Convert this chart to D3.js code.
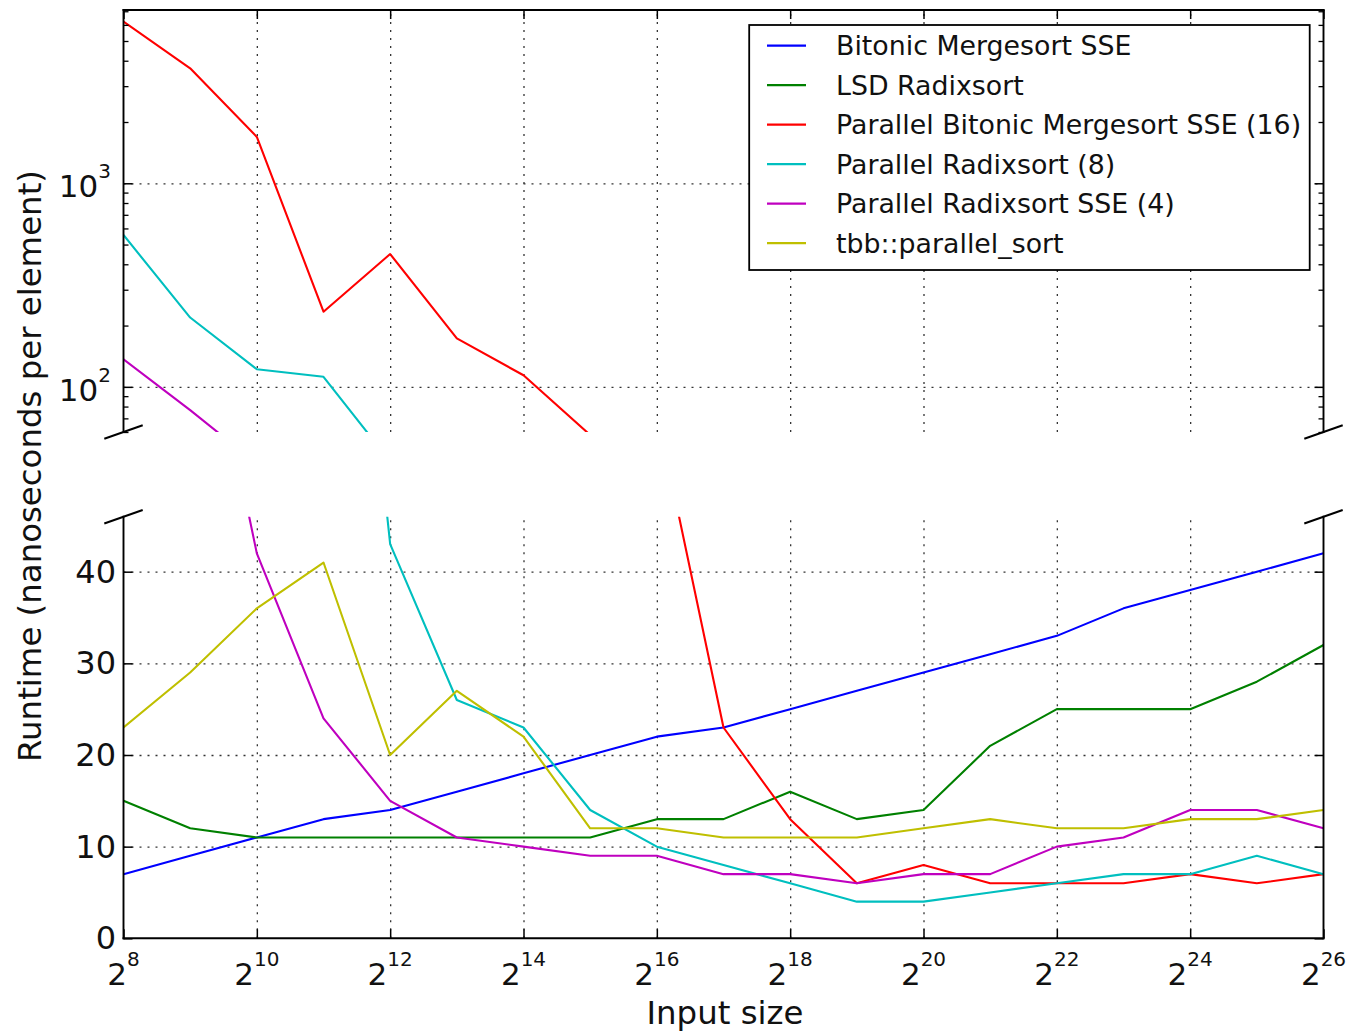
<!DOCTYPE html>
<html><head><meta charset="utf-8">
<script src="https://cdn.jsdelivr.net/npm/d3@7"></script>
<style>
body{margin:0;background:#fff}
svg{display:block}
text{font-family:"DejaVu Sans",sans-serif;fill:#111}
</style>
</head><body>
<svg id="chart" width="1349" height="1033"></svg>
<script>
// ---------------- data ----------------
const exponents = [8,9,10,11,12,13,14,15,16,17,18,19,20,21,22,23,24,25,26];
const seriesNames = ["Bitonic Mergesort SSE","LSD Radixsort","Parallel Bitonic Mergesort SSE (16)","Parallel Radixsort (8)","Parallel Radixsort SSE (4)","tbb::parallel_sort"];
const seriesColors = ["#0000ff","#008000","#ff0000","#00bfbf","#bf00bf","#bfbf00"];
const bitonicSSE   = [7,9,11,13,14,16,18,20,22,23,25,27,29,31,33,36,38,40,42];
const lsdRadix     = [15,12,11,11,11,11,11,11,13,13,16,13,14,21,25,25,25,28,32];
const parBitonic16 = [6230,3670,1690,234,449,173,114,58,57.5,23,13,6,8,6,6,6,7,6,7];
const parRadix8    = [557,219,122,112,43,26,23,14,10,8,6,4,4,5,6,7,7,9,7];
const parRadixSSE4 = [136.5,76.8,42,24,15,11,10,9,9,7,7,6,7,7,10,11,14,14,12];
const tbbSort      = [23,29,36,41,20,27,22,12,12,11,11,11,12,13,12,12,13,13,14];
const allSeries = [bitonicSSE, lsdRadix, parBitonic16, parRadix8, parRadixSSE4, tbbSort];

const xTickExps = [8,10,12,14,16,18,20,22,24,26];
const logMajorTicks = [100,1000];
const logMinorTicks = [60,70,80,90,200,300,400,500,600,700,800,900,2000,3000,4000,5000,6000,7000];
const logTickLabels = ["2","3"];
const linTicks = [0,10,20,30,40];

// ---------------- layout ----------------
const L = 123.5, R = 1323.5;
const T1 = 10, B1 = 432;       // top (log) panel
const T2 = 516.7, B2 = 938.3;  // bottom (linear) panel

const svg = d3.select("#chart");
const x = d3.scaleLog().base(2).domain([Math.pow(2,8), Math.pow(2,26)]).range([L, R]);
const yTop = d3.scaleLog().domain([60, 7100]).range([B1, T1]);
const yBot = d3.scaleLinear().domain([0, 46]).range([B2, T2]);

const defs = svg.append("defs");
defs.append("clipPath").attr("id","clipTop").append("rect").attr("x",L).attr("y",T1).attr("width",R-L).attr("height",B1-T1);
defs.append("clipPath").attr("id","clipBot").append("rect").attr("x",L).attr("y",T2).attr("width",R-L).attr("height",B2-T2);

const xVals = exponents.map(e => Math.pow(2,e));
const xTickVals = xTickExps.map(e => Math.pow(2,e));

function styleGrid(g){
  g.select(".domain").remove();
  g.selectAll("line").attr("stroke","#333").attr("stroke-width",1.3).attr("stroke-dasharray","2,6");
}
function styleTicks(g, w){
  g.select(".domain").remove();
  g.selectAll("line").attr("stroke","#000").attr("stroke-width",w||1.5);
}

function panel(yScale, top, bottom, clipId, yMajor, yMinor, isTop){
  const h = bottom - top;
  // grid
  svg.append("g").attr("transform",`translate(0,${bottom})`)
    .call(d3.axisBottom(x).tickValues(xTickVals.slice(1,-1)).tickSize(-h).tickSizeOuter(0).tickFormat(""))
    .call(styleGrid);
  svg.append("g").attr("transform",`translate(${L},0)`)
    .call(d3.axisLeft(yScale).tickValues(yMajor.filter(v=>v>yScale.domain()[0])).tickSize(-(R-L)).tickSizeOuter(0).tickFormat(""))
    .call(styleGrid);
  // lines
  const gl = svg.append("g").attr("clip-path",`url(#${clipId})`);
  allSeries.forEach((s,i)=>{
    const line = d3.line().x((d,j)=>x(xVals[j])).y(d=>yScale(d));
    gl.append("path").datum(s).attr("d",line).attr("fill","none")
      .attr("stroke",seriesColors[i]).attr("stroke-width",2.1).attr("stroke-linejoin","round");
  });
  // ticks on spines
  const tickLen = 9, minorLen = 5;
  if(isTop){
    svg.append("g").attr("transform",`translate(0,${top})`)
      .call(d3.axisTop(x).tickValues(xTickVals).tickSize(-tickLen).tickSizeOuter(0).tickFormat("")).call(styleTicks);
  } else {
    svg.append("g").attr("transform",`translate(0,${bottom})`)
      .call(d3.axisBottom(x).tickValues(xTickVals).tickSize(-tickLen).tickSizeOuter(0).tickFormat("")).call(styleTicks);
  }
  svg.append("g").attr("transform",`translate(${L},0)`)
    .call(d3.axisLeft(yScale).tickValues(yMajor).tickSize(-tickLen).tickSizeOuter(0).tickFormat("")).call(styleTicks);
  svg.append("g").attr("transform",`translate(${R},0)`)
    .call(d3.axisRight(yScale).tickValues(yMajor).tickSize(-tickLen).tickSizeOuter(0).tickFormat("")).call(styleTicks);
  if(yMinor){
    svg.append("g").attr("transform",`translate(${L},0)`)
      .call(d3.axisLeft(yScale).tickValues(yMinor).tickSize(-minorLen).tickSizeOuter(0).tickFormat("")).call(g=>styleTicks(g,1.3));
    svg.append("g").attr("transform",`translate(${R},0)`)
      .call(d3.axisRight(yScale).tickValues(yMinor).tickSize(-minorLen).tickSizeOuter(0).tickFormat("")).call(g=>styleTicks(g,1.3));
  }
  // spines
  const sp = svg.append("g").attr("stroke","#000").attr("stroke-width",1.9).attr("fill","none").attr("stroke-linecap","square");
  sp.append("line").attr("x1",L).attr("x2",L).attr("y1",top).attr("y2",bottom);
  sp.append("line").attr("x1",R).attr("x2",R).attr("y1",top).attr("y2",bottom);
  if(isTop) sp.append("line").attr("x1",L).attr("x2",R).attr("y1",top).attr("y2",top);
  else sp.append("line").attr("x1",L).attr("x2",R).attr("y1",bottom).attr("y2",bottom);
  // break marks
  const d = 0.016, dx = d*(R-L), dy = d*h;
  const by = isTop ? bottom : top;
  const bm = svg.append("g").attr("stroke","#000").attr("stroke-width",2);
  [L,R].forEach(px=>{
    bm.append("line").attr("x1",px-dx).attr("y1",by+dy).attr("x2",px+dx).attr("y2",by-dy);
  });
}

panel(yTop, T1, B1, "clipTop", logMajorTicks, logMinorTicks, true);
panel(yBot, T2, B2, "clipBot", linTicks, null, false);

// tick labels
const tickFont = 31, supFont = 20;
xTickExps.forEach(e=>{
  const t = svg.append("text").attr("x", x(Math.pow(2,e))).attr("y", 985)
    .attr("text-anchor","middle").style("font-size", tickFont+"px");
  t.append("tspan").text("2");
  t.append("tspan").attr("dy",-19).style("font-size", supFont+"px").text(String(e));
});
logMajorTicks.forEach((v,i)=>{
  const t = svg.append("text").attr("x", 111).attr("y", yTop(v)+14)
    .attr("text-anchor","end").style("font-size", tickFont+"px");
  t.append("tspan").text("10");
  t.append("tspan").attr("dy",-19).style("font-size", supFont+"px").text(logTickLabels[i]);
});
linTicks.forEach(v=>{
  svg.append("text").attr("x", 116).attr("y", yBot(v)+11)
    .attr("text-anchor","end").style("font-size", "32px").text(String(v));
});

// axis labels
svg.append("text").attr("x", 725).attr("y", 1024).attr("text-anchor","middle")
  .style("font-size","32.4px").text("Input size");
svg.append("text").attr("transform","translate(41,466) rotate(-90)").attr("text-anchor","middle")
  .style("font-size","32.4px").text("Runtime (nanoseconds per element)");

// legend
const lg = svg.append("g");
lg.append("rect").attr("x",749.2).attr("y",25).attr("width",560.5).attr("height",245)
  .attr("fill","#fff").attr("stroke","#000").attr("stroke-width",1.8);
seriesNames.forEach((n,i)=>{
  const cy = 45.7 + i*39.5;
  lg.append("line").attr("x1",767).attr("x2",806).attr("y1",cy).attr("y2",cy)
    .attr("stroke",seriesColors[i]).attr("stroke-width",2.2);
  lg.append("text").attr("x",836).attr("y",cy+9.5).style("font-size","26.8px").text(n);
});
</script>
</body></html>
